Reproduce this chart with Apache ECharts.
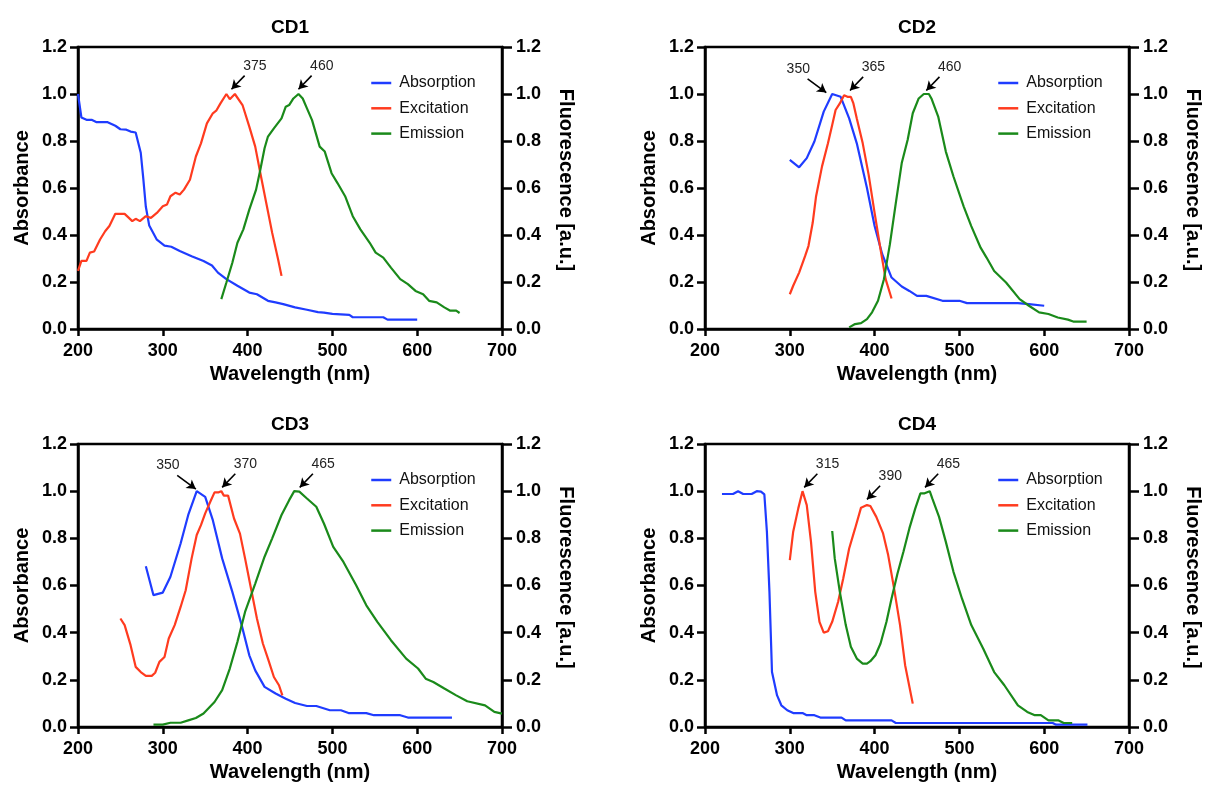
<!DOCTYPE html>
<html>
<head>
<meta charset="utf-8">
<script src="https://cdn.jsdelivr.net/npm/echarts@6/dist/echarts.min.js"></script>
<style>
  html, body { margin: 0; padding: 0; background: #fff; }
  #main { width: 1206px; height: 785px; }
</style>
</head>
<body>
<div id="main"></div>
<script>
// panel titles and legend names
const panelNames = ['CD1', 'CD2', 'CD3', 'CD4'];
const seriesNames = ['Absorption', 'Excitation', 'Emission'];
const xTicks = [200, 300, 400, 500, 600, 700];
const yTicks = [0, 0.2, 0.4, 0.6, 0.8, 1.0, 1.2];

// CD1  [wavelength, value]
const cd1Abs = [[200,1.0],[204,0.90],[210,0.89],[216,0.89],[222,0.88],[235,0.88],[244,0.865],[250,0.85],[257,0.848],[262,0.84],[268,0.836],[270,0.83],[274,0.75],[277,0.64],[280,0.52],[284,0.44],[293,0.38],[302,0.355],[310,0.35],[320,0.332],[334,0.31],[348,0.289],[358,0.27],[365,0.24],[375,0.212],[388,0.184],[402,0.155],[411,0.148],[424,0.12],[433,0.113],[442,0.106],[456,0.092],[470,0.082],[483,0.072],[490,0.07],[500,0.064],[520,0.06],[524,0.05],[560,0.05],[565,0.04],[600,0.04]];
const cd1Exc = [[200,0.247],[204,0.29],[210,0.29],[214,0.325],[219,0.33],[226,0.381],[232,0.416],[237,0.438],[244,0.49],[255,0.49],[260,0.473],[264,0.459],[268,0.469],[273,0.459],[280,0.48],[286,0.473],[293,0.494],[300,0.522],[305,0.53],[309,0.565],[315,0.58],[320,0.572],[325,0.593],[332,0.635],[339,0.734],[345,0.79],[352,0.875],[359,0.918],[363,0.929],[368,0.96],[375,1.0],[379,0.978],[385,1.0],[394,0.953],[402,0.861],[409,0.776],[415,0.664],[422,0.536],[429,0.409],[436,0.296],[440,0.226]];
const cd1Emi = [[369,0.127],[375,0.198],[382,0.282],[388,0.367],[395,0.424],[402,0.508],[410,0.593],[415,0.678],[420,0.769],[424,0.819],[431,0.854],[440,0.896],[445,0.946],[449,0.953],[454,0.981],[460,1.0],[465,0.981],[470,0.939],[476,0.889],[485,0.776],[491,0.755],[499,0.663],[506,0.621],[515,0.565],[524,0.48],[533,0.424],[544,0.367],[551,0.325],[560,0.304],[569,0.261],[580,0.212],[589,0.191],[598,0.162],[607,0.148],[614,0.12],[623,0.113],[632,0.092],[639,0.078],[646,0.078],[650,0.068]];

// CD2
const cd2Abs = [[300,0.72],[311,0.688],[320,0.727],[329,0.798],[340,0.925],[350,1.0],[360,0.988],[370,0.896],[379,0.79],[391,0.6],[400,0.438],[409,0.318],[420,0.219],[432,0.181],[441,0.162],[450,0.141],[461,0.141],[480,0.12],[500,0.12],[509,0.11],[532,0.11],[569,0.11],[582,0.106],[600,0.099]];
const cd2Exc = [[300,0.148],[304,0.184],[311,0.24],[318,0.31],[322,0.353],[327,0.452],[331,0.565],[338,0.692],[345,0.79],[350,0.868],[354,0.932],[359,0.96],[364,0.995],[366,1.0],[368,0.988],[372,0.988],[375,0.96],[379,0.896],[386,0.79],[393,0.656],[400,0.494],[407,0.339],[413,0.212],[420,0.13]];
const cd2Emi = [[370,0.007],[377,0.021],[384,0.025],[391,0.042],[397,0.071],[404,0.12],[411,0.212],[418,0.36],[425,0.536],[432,0.706],[439,0.805],[445,0.918],[452,0.981],[458,1.0],[464,1.0],[467,0.981],[475,0.904],[484,0.755],[493,0.649],[505,0.522],[514,0.438],[525,0.346],[532,0.304],[541,0.247],[555,0.198],[571,0.127],[582,0.099],[594,0.071],[605,0.064],[616,0.049],[628,0.04],[635,0.031],[650,0.031]];

// CD3
const cd3Abs = [[280,0.682],[289,0.559],[300,0.57],[309,0.637],[321,0.778],[330,0.899],[340,1.0],[350,0.976],[359,0.877],[370,0.715],[382,0.573],[393,0.432],[402,0.304],[409,0.24],[420,0.17],[433,0.142],[445,0.12],[456,0.102],[470,0.089],[481,0.089],[497,0.071],[510,0.071],[519,0.059],[540,0.059],[549,0.05],[580,0.05],[589,0.04],[641,0.04]];
const cd3Exc = [[250,0.46],[255,0.432],[262,0.347],[268,0.255],[274,0.233],[280,0.217],[287,0.217],[291,0.23],[296,0.276],[302,0.297],[307,0.375],[314,0.432],[321,0.509],[327,0.58],[334,0.715],[340,0.814],[345,0.856],[350,0.906],[356,0.955],[361,0.995],[366,0.995],[369,1.0],[372,0.981],[377,0.981],[384,0.884],[391,0.82],[397,0.715],[404,0.587],[411,0.46],[418,0.354],[424,0.29],[431,0.212],[437,0.177],[441,0.134]];
const cd3Emi = [[289,0.01],[300,0.01],[309,0.018],[321,0.018],[330,0.028],[339,0.038],[348,0.057],[361,0.106],[370,0.156],[379,0.248],[388,0.361],[397,0.488],[409,0.608],[420,0.722],[429,0.8],[440,0.899],[449,0.962],[455,1.0],[461,0.998],[470,0.969],[481,0.934],[490,0.863],[501,0.764],[513,0.7],[528,0.601],[540,0.516],[553,0.446],[569,0.368],[587,0.29],[601,0.248],[610,0.205],[619,0.191],[632,0.163],[646,0.134],[659,0.109],[680,0.092],[691,0.064],[700,0.057]];

// CD4
const cd4Abs = [[220,0.988],[233,0.988],[239,1.0],[245,0.988],[255,0.988],[261,1.0],[266,0.998],[270,0.986],[273,0.828],[276,0.573],[279,0.233],[285,0.134],[290,0.092],[297,0.071],[304,0.059],[315,0.059],[320,0.05],[329,0.05],[336,0.04],[361,0.04],[366,0.028],[420,0.028],[425,0.017],[610,0.017],[614,0.01],[651,0.01]];
const cd4Exc = [[300,0.708],[304,0.828],[310,0.927],[315,1.0],[320,0.941],[325,0.785],[330,0.573],[335,0.446],[340,0.4],[345,0.406],[350,0.446],[357,0.531],[363,0.63],[370,0.757],[377,0.842],[384,0.93],[391,0.941],[395,0.937],[402,0.891],[410,0.821],[416,0.729],[423,0.587],[430,0.432],[436,0.262],[445,0.099]];
const cd4Emi = [[350,0.831],[353,0.715],[359,0.573],[366,0.432],[372,0.34],[379,0.29],[386,0.269],[391,0.269],[395,0.279],[401,0.304],[407,0.354],[414,0.446],[420,0.545],[427,0.651],[434,0.743],[441,0.842],[448,0.927],[454,0.991],[459,0.991],[465,1.0],[468,0.969],[476,0.891],[484,0.785],[493,0.658],[503,0.545],[514,0.432],[528,0.333],[541,0.233],[553,0.177],[569,0.092],[580,0.064],[589,0.05],[596,0.05],[605,0.028],[617,0.028],[623,0.017],[633,0.017]];

// peak annotations: [label, arrow tip wavelength, arrow tip value, side of the label (1 right, -1 left)]
const cd1Peaks = [['375', 381, 1.02, 1], ['460', 460, 1.02, 1]];
const cd2Peaks = [['350', 343, 1.006, -1], ['365', 371, 1.015, 1], ['460', 461, 1.015, 1]];
const cd3Peaks = [['350', 339, 1.009, -1], ['370', 370, 1.016, 1], ['465', 461.5, 1.016, 1]];
const cd4Peaks = [['315', 317, 1.016, 1], ['390', 391, 0.965, 1], ['465', 459.5, 1.016, 1]];

const panelData = [
  [cd1Abs, cd1Exc, cd1Emi],
  [cd2Abs, cd2Exc, cd2Emi],
  [cd3Abs, cd3Exc, cd3Emi],
  [cd4Abs, cd4Exc, cd4Emi],
];
const panelPeaks = [cd1Peaks, cd2Peaks, cd3Peaks, cd4Peaks];

const colors = ['#1f3cff', '#ff3b1f', '#1a8a1a'];
const font = 'Liberation Sans, Arial, Helvetica, sans-serif';
const boxes = [
  { left: 78, top: 47, height: 282 },
  { left: 705, top: 47, height: 282 },
  { left: 78, top: 444, height: 283 },
  { left: 705, top: 444, height: 283 },
];
const plotWidth = 424;

const chart = echarts.init(document.getElementById('main'), null, { renderer: 'canvas' });

const grid = [], xAxis = [], yAxis = [], series = [], title = [], legend = [];

const axisLine = { show: true, onZero: false, lineStyle: { color: '#000', width: 2.5 } };
const labelStyle = { color: '#000', fontSize: 18, fontWeight: 'bold', fontFamily: font };
const nameStyle = { color: '#000', fontSize: 20, fontWeight: 'bold', fontFamily: font };

boxes.forEach((b, i) => {
  grid.push({
    left: b.left, top: b.top, width: plotWidth, height: b.height,
    show: true, borderColor: '#000', borderWidth: 2.5, backgroundColor: 'transparent',
  });
  title.push({
    text: panelNames[i],
    left: b.left + plotWidth / 2,
    top: b.top - 29,
    textAlign: 'center',
    padding: 0,
    textStyle: { color: '#000', fontSize: 19, fontWeight: 'bold', fontFamily: font },
  });
  legend.push({
    data: seriesNames,
    orient: 'vertical',
    left: b.left + 292,
    top: b.top + 28,
    padding: 0,
    itemWidth: 20,
    itemHeight: 14,
    itemGap: 9.3,
    itemStyle: { opacity: 0 },
    lineStyle: { width: 2.5 },
    textStyle: { color: '#111', fontSize: 16, fontFamily: font, padding: [0, 0, 0, 3] },
  });
  xAxis.push({
    gridIndex: i, type: 'value', min: 200, max: 700, interval: 100,
    name: 'Wavelength (nm)', nameLocation: 'middle', nameGap: 35,
    nameTextStyle: nameStyle,
    axisLine: axisLine,
    axisTick: { show: true, inside: false, length: 7, lineStyle: { color: '#000', width: 2.5 } },
    axisLabel: Object.assign({ margin: 13, formatter: v => (xTicks.includes(v) ? String(v) : '') }, labelStyle),
    splitLine: { show: false },
  });
  yAxis.push({
    gridIndex: i, type: 'value', min: 0, max: 1.2, interval: 0.2, position: 'left',
    name: 'Absorbance', nameLocation: 'middle', nameGap: 46, nameRotate: 90,
    nameTextStyle: nameStyle,
    axisLine: axisLine,
    axisTick: { show: true, inside: false, length: 8, lineStyle: { color: '#000', width: 2.5 } },
    axisLabel: Object.assign({ margin: 11, formatter: v => v.toFixed(1) }, labelStyle),
    splitLine: { show: false },
  });
  yAxis.push({
    gridIndex: i, type: 'value', min: 0, max: 1.2, interval: 0.2, position: 'right',
    name: 'Fluorescence [a.u.]', nameLocation: 'middle', nameGap: 54, nameRotate: -90,
    nameTextStyle: Object.assign({ padding: [0, 16, 0, 0] }, nameStyle),
    axisLine: axisLine,
    axisTick: { show: true, inside: false, length: 10, lineStyle: { color: '#000', width: 2.5 } },
    axisLabel: Object.assign({ margin: 14, formatter: v => v.toFixed(1) }, labelStyle),
    splitLine: { show: false },
  });

  // arrows and labels built from the peak list
  const peaks = panelPeaks[i];
  const arrows = peaks.map(p => {
    const dx = p[3] > 0 ? 15.5 : -22;
    return [{ coord: [p[1] + dx, p[2] + 0.058] }, { coord: [p[1], p[2]] }];
  });
  const texts = peaks.map(p => {
    const dx = p[3] > 0 ? 27.5 : -33;
    return { coord: [p[1] + dx, p[2] + 0.1], value: p[0] };
  });

  panelData[i].forEach((d, k) => {
    const s = {
      name: seriesNames[k],
      type: 'line',
      xAxisIndex: i,
      yAxisIndex: k === 0 ? i * 2 : i * 2 + 1,
      data: d,
      symbol: 'none',
      showSymbol: false,
      smooth: false,
      lineStyle: { color: colors[k], width: 2.2 },
      itemStyle: { color: colors[k] },
      z: 3 + k,
      animation: false,
    };
    if (k === 1) {
      s.markLine = {
        silent: true,
        animation: false,
        symbol: ['none', 'arrow'],
        symbolSize: [8, 9],
        label: { show: false },
        lineStyle: { color: '#000', width: 1.6, type: 'solid' },
        emphasis: { disabled: true },
        data: arrows,
      };
      s.markPoint = {
        silent: true,
        animation: false,
        symbol: 'circle',
        symbolSize: 1,
        itemStyle: { color: 'rgba(0,0,0,0)' },
        label: {
          show: true, position: 'inside', color: '#222', fontSize: 14, fontFamily: font,
          formatter: p => p.value,
        },
        data: texts,
      };
    }
    series.push(s);
  });
});

chart.setOption({
  backgroundColor: '#fff',
  animation: false,
  title: title,
  legend: legend,
  grid: grid,
  xAxis: xAxis,
  yAxis: yAxis,
  series: series,
});
</script>
</body>
</html>
